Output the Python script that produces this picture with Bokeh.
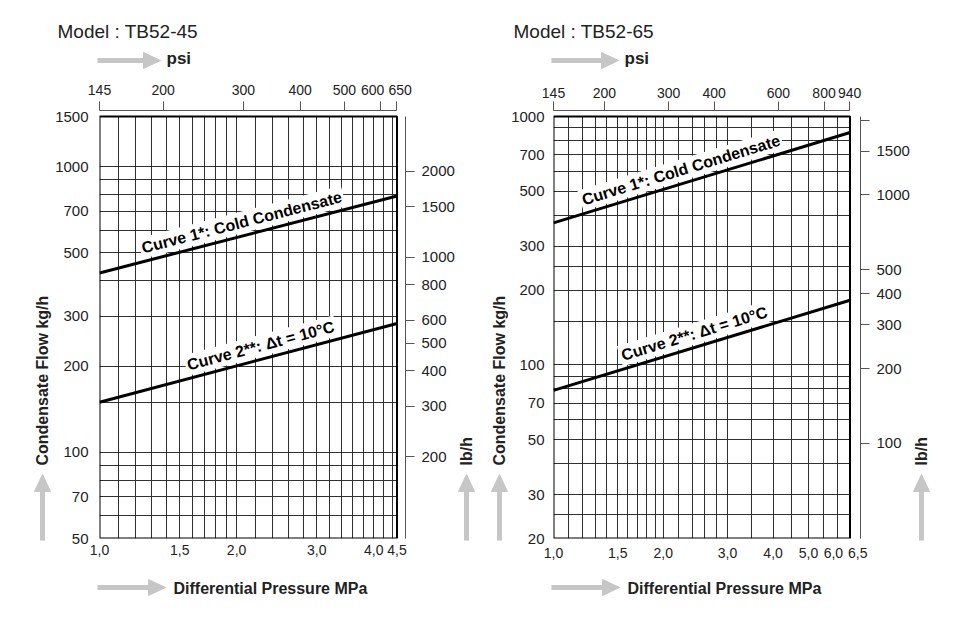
import math
from bokeh.plotting import figure
from bokeh.models import Range1d, LogScale, LogAxis, FixedTicker, Label, Grid
from bokeh.layouts import row, column
from bokeh.embed import file_html
from bokeh.resources import INLINE

# ------------------------------------------------------------------ data
left_title = "Model : TB52-45"
right_title = "Model : TB52-65"

left_pressure = [1.0, 4.5]      # MPa
left_cold = [425, 790]          # kg/h  Curve 1
left_dt10 = [150, 283]          # kg/h  Curve 2
right_pressure = [1.0, 6.5]
right_cold = [373, 862]
right_dt10 = [79, 182]

curve1_text = "Curve 1*: Cold Condensate"
curve2_text = "Curve 2**: \u0394t = 10\u00b0C"

FS = "\u2007"   # figure space, nudges crowded tick labels apart

left_x_ticks = [1, 1.5, 2, 3, 4, 4.5]
left_x_labels = ["1,0", "1,5", "2,0", "3,0", "4,0", "4,5"]
right_x_ticks = [1, 1.5, 2, 3, 4, 5, 6, 6.5]
right_x_labels = ["1,0", "1,5", "2,0", "3,0", "4,0", "5,0", "6,0" + FS, FS * 2 + "6,5"]

left_y_ticks = [50, 70, 100, 200, 300, 500, 700, 1000, 1500]
right_y_ticks = [20, 30, 50, 70, 100, 200, 300, 500, 700, 1000]

left_psi_ticks = [145, 200, 300, 400, 500, 600, 650]
left_psi_labels = ["145", "200", "300", "400", "500", "600" + FS * 2, FS + "650"]
right_psi_ticks = [145, 200, 300, 400, 600, 800, 940]
right_psi_labels = ["145", "200", "300", "400", "600", "800", "940"]

left_lb_ticks = [200, 300, 400, 500, 600, 800, 1000, 1500, 2000]
left_lb_labels = ["200", "300", "400", "500", "600", "800", "1000", "1500", "2000"]
right_lb_ticks = [100, 200, 300, 400, 500, 1000, 1500, 2000]
right_lb_labels = ["100", "200", "300", "400", "500", "1000", "1500", ""]

left_x_grid = [1.1, 1.2, 1.3, 1.4, 1.5, 1.6, 1.7, 1.8, 1.9, 2.0,
               2.2, 2.4, 2.6, 2.8, 3.0, 3.2, 3.4, 3.6, 3.8, 4.0, 4.2, 4.4]
right_x_grid = [1.1, 1.2, 1.3, 1.4, 1.5, 1.6, 1.7, 1.8, 1.9, 2.0,
                2.2, 2.4, 2.6, 2.8, 3.0, 3.5, 4.0, 4.5, 5.0, 5.5, 6.0]
left_y_grid = [60, 70, 80, 90, 100, 150, 200, 300, 400, 500, 600, 700, 800, 900, 1000]
right_y_grid = [25, 30, 40, 50, 60, 70, 80, 90, 100, 150, 200, 250, 300, 400, 500,
                600, 700, 800, 900]

PSI_PER_MPA = 145.0
LB_SCALE = 2.07   # lb/h scale as drawn on the chart

FONT = "Liberation Sans"
ARROW_GREY = "#c6c6c6"
TEXT = "#222222"
HAS_CROSS_BOUNDS = "cross_bounds" in Grid.properties()


# ------------------------------------------------------------------ helpers
class Strip:
    """Blank figure whose data units are image pixels of the page."""

    def __init__(self, w, h, ox, oy):
        self.ox, self.oy, self.h = ox, oy, h
        s = figure(width=w, height=h, x_range=Range1d(0, w), y_range=Range1d(0, h),
                   x_axis_location=None, y_axis_location=None, min_border=0,
                   output_backend="svg", toolbar_location=None, frame_align=False,
                   outline_line_color=None, background_fill_color="white",
                   border_fill_color="white")
        s.grid.visible = False
        self.fig = s

    def lx(self, X):
        return X - self.ox

    def ly(self, Y):
        return self.h - (Y - self.oy)

    def h_arrow(self, xa, xb, y, head=17, half=8, width=5):
        yy = self.ly(y)
        tip = self.lx(xb)
        self.fig.segment(x0=[self.lx(xa)], y0=[yy], x1=[tip - head + 1], y1=[yy],
                         line_color=ARROW_GREY, line_width=width, line_cap="butt")
        self.fig.patch([tip - head, tip, tip - head], [yy + half, yy, yy - half],
                       fill_color=ARROW_GREY, line_color=ARROW_GREY)

    def v_arrow(self, x, ya, yb, head=17, half=8, width=5):
        xx = self.lx(x)
        tip = self.ly(yb)
        self.fig.segment(x0=[xx], y0=[self.ly(ya)], x1=[xx], y1=[tip - head + 1],
                         line_color=ARROW_GREY, line_width=width, line_cap="butt")
        self.fig.patch([xx - half, xx, xx + half], [tip - head, tip, tip - head],
                       fill_color=ARROW_GREY, line_color=ARROW_GREY)

    def text(self, X, Y, txt, size, bold=False, angle=0.0, baseline="middle"):
        self.fig.add_layout(Label(x=self.lx(X), y=self.ly(Y), text=txt, angle=angle,
                                  text_align="left", text_baseline=baseline,
                                  text_font=FONT,
                                  text_font_style="bold" if bold else "normal",
                                  text_font_size=size, text_color=TEXT))


def style_axis(ax, standoff, size="15px"):
    ax.major_label_text_font = FONT
    ax.major_label_text_font_size = size
    ax.major_label_text_color = TEXT
    ax.minor_tick_in = 0
    ax.minor_tick_out = 0
    ax.major_label_standoff = standoff


def chart(cfg):
    x0, x1 = cfg["pressure"]
    y0, y1 = cfg["yticks"][0], cfg["yticks"][-1]
    bw, bh = cfg["box_w"], cfg["box_h"]
    fw = int(round(bw + cfg["gap_r"]))
    fh = int(round(bh + cfg["gap_t"]))
    X1 = 10 ** (math.log10(x1 / x0) * fw / bw) * x0
    Y1 = 10 ** (math.log10(y1 / y0) * fh / bh) * y0

    p = figure(x_axis_type="log", y_axis_type="log",
               x_range=Range1d(x0, X1), y_range=Range1d(y0, Y1),
               frame_width=fw, frame_height=fh,
               min_border_left=cfg["bl"], min_border_right=cfg["br"],
               min_border_top=cfg["bt"], min_border_bottom=cfg["bb"],
               output_backend="svg", toolbar_location=None, frame_align=False,
               outline_line_color=None,
               background_fill_color="white", border_fill_color="white")

    # grid
    p.xgrid.ticker = FixedTicker(ticks=cfg["xgrid"], minor_ticks=[])
    p.ygrid.ticker = FixedTicker(ticks=cfg["ygrid"], minor_ticks=[])
    for g in (p.xgrid, p.ygrid):
        g.grid_line_color = "#303030"
        g.grid_line_width = 1
    if HAS_CROSS_BOUNDS:
        p.xgrid.cross_bounds = (y0, y1)
        p.ygrid.cross_bounds = (x0, x1)
    else:
        p.grid.visible = False
        gx = cfg["xgrid"]
        p.segment(x0=gx, y0=[y0] * len(gx), x1=gx, y1=[y1] * len(gx),
                  line_color="#303030", line_width=1)
        gy = cfg["ygrid"]
        p.segment(x0=[x0] * len(gy), y0=gy, x1=[x1] * len(gy), y1=gy,
                  line_color="#303030", line_width=1)

    # chart box
    p.quad(left=[x0], right=[x1], bottom=[y0], top=[y1], fill_color=None,
           line_color="black", line_width=2)

    # main axes
    p.xaxis.ticker = FixedTicker(ticks=cfg["xticks"], minor_ticks=[])
    p.xaxis.major_label_overrides = dict(zip(cfg["xticks"], cfg["xlabels"]))
    p.yaxis.ticker = FixedTicker(ticks=cfg["yticks"], minor_ticks=[])
    p.yaxis.major_label_overrides = {t: str(t) for t in cfg["yticks"]}
    for ax in (p.xaxis, p.yaxis):
        ax.axis_line_color = None
        ax.major_tick_out = 0
        ax.major_tick_in = 0
    style_axis(p.xaxis, 6, "14px")
    style_axis(p.yaxis, cfg["y_standoff"])

    # psi axis on top
    p.extra_x_ranges = {"psi": Range1d(x0 * PSI_PER_MPA, X1 * PSI_PER_MPA)}
    p.extra_x_scales = {"psi": LogScale()}
    psi_axis = LogAxis(x_range_name="psi",
                       ticker=FixedTicker(ticks=cfg["psi"], minor_ticks=[]),
                       bounds=(cfg["psi"][0], cfg["psi"][-1]))
    psi_axis.major_label_overrides = dict(zip(cfg["psi"], cfg["psi_labels"]))
    psi_axis.major_tick_out = 9
    psi_axis.major_tick_in = 0
    psi_axis.axis_line_color = "#555555"
    psi_axis.major_tick_line_color = "#555555"
    style_axis(psi_axis, 4, "14px")
    p.add_layout(psi_axis, "above")

    # lb/h axis on the right
    p.extra_y_ranges = {"lb": Range1d(y0 * LB_SCALE, Y1 * LB_SCALE)}
    p.extra_y_scales = {"lb": LogScale()}
    lb_axis = LogAxis(y_range_name="lb",
                      ticker=FixedTicker(ticks=cfg["lb"], minor_ticks=[]),
                      bounds=(y0 * LB_SCALE, y1 * LB_SCALE))
    lb_axis.major_label_overrides = dict(zip(cfg["lb"], cfg["lb_labels"]))
    lb_axis.major_tick_out = 9
    lb_axis.major_tick_in = 0
    lb_axis.axis_line_color = "#555555"
    lb_axis.major_tick_line_color = "#555555"
    style_axis(lb_axis, 7)
    p.add_layout(lb_axis, "right")

    # curves + their captions
    for ys, txt, xm in ((cfg["c1"], curve1_text, cfg["c1_x"]),
                        (cfg["c2"], curve2_text, cfg["c2_x"])):
        p.line([x0, x1], ys, line_color="black", line_width=3)
        t = math.log10(xm / x0) / math.log10(x1 / x0)
        ym = 10 ** (math.log10(ys[0]) + t * math.log10(ys[1] / ys[0]))
        dy_px = math.log10(ys[1] / ys[0]) / math.log10(y1 / y0) * bh
        ang = math.atan2(dy_px, bw)
        p.add_layout(Label(x=xm, y=ym, text=txt, angle=ang,
                           text_align="center", text_baseline="bottom",
                           y_offset=3, padding=2,
                           background_fill_color="white",
                           text_font=FONT, text_font_style="bold",
                           text_font_size="16px", text_color="black"))
    return p


def build(cfg):
    ox = cfg["ox"]
    top_h, mid_h, bot_h = 72, 496, 44
    lw, rw = cfg["lw"], cfg["rw"]
    cw = 478 - lw - rw

    top = Strip(478, top_h, ox, 0)
    top.text(cfg["title_x"], 31, cfg["title"], "19px", baseline="alphabetic")
    top.h_arrow(cfg["box_l"], cfg["psi_tip"], 60)
    top.text(cfg["psi_tip"] + 6, 58, "psi", "17px", bold=True)

    left = Strip(lw, mid_h, ox, top_h)
    left.v_arrow(cfg["ycap_x"], 540, 474)
    left.text(cfg["ycap_x"], 465, "Condensate Flow kg/h", "16px", bold=True,
              angle=math.pi / 2)

    right = Strip(rw, mid_h, ox + lw + cw, top_h)
    right.v_arrow(cfg["lbcap_x"], 540, 474)
    right.text(cfg["lbcap_x"], 465, "lb/h", "16px", bold=True, angle=math.pi / 2)

    bottom = Strip(478, bot_h, ox, top_h + mid_h)
    bottom.h_arrow(cfg["box_l"], cfg["x_tip"], 587)
    bottom.text(cfg["x_tip"] + 8, 588, "Differential Pressure MPa", "16px", bold=True)

    main = chart(cfg)
    return column(top.fig, row(left.fig, main, right.fig), bottom.fig)


left_cfg = dict(
    title=left_title, ox=0, lw=52, rw=23, box_l=97,
    bl=45, br=52, bt=38, bb=30, box_w=297.5, box_h=422, gap_r=8.5, gap_t=6,
    y_standoff=11,
    pressure=left_pressure, c1=left_cold, c2=left_dt10, c1_x=2.08, c2_x=2.29,
    xticks=left_x_ticks, xlabels=left_x_labels, yticks=left_y_ticks,
    xgrid=left_x_grid, ygrid=left_y_grid,
    psi=left_psi_ticks, psi_labels=left_psi_labels,
    lb=left_lb_ticks, lb_labels=left_lb_labels,
    title_x=57, psi_tip=160, x_tip=165, ycap_x=42, lbcap_x=464,
)
right_cfg = dict(
    title=right_title, ox=478, lw=28, rw=50, box_l=549,
    bl=43, br=50, bt=38, bb=30, box_w=296.5, box_h=422, gap_r=10.5, gap_t=6,
    y_standoff=9,
    pressure=right_pressure, c1=right_cold, c2=right_dt10, c1_x=2.28, c2_x=2.48,
    xticks=right_x_ticks, xlabels=right_x_labels, yticks=right_y_ticks,
    xgrid=right_x_grid, ygrid=right_y_grid,
    psi=right_psi_ticks, psi_labels=right_psi_labels,
    lb=right_lb_ticks, lb_labels=right_lb_labels,
    title_x=511, psi_tip=616, x_tip=617, ycap_x=497, lbcap_x=915,
)

layout = row(build(left_cfg), build(right_cfg))

open("out.html", "w").write(file_html(layout, INLINE))
